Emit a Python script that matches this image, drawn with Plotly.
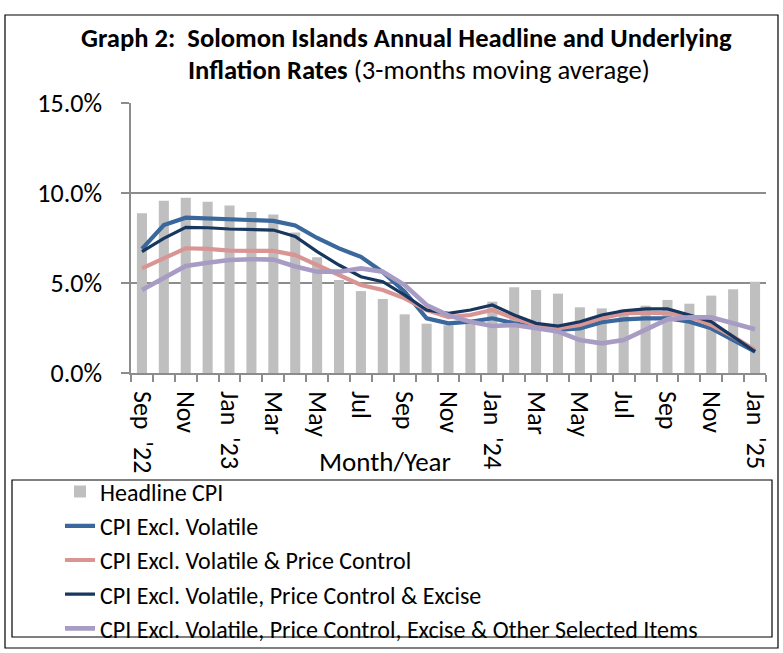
import plotly.graph_objects as go

months = ["Sep-22", "Oct-22", "Nov-22", "Dec-22", "Jan-23", "Feb-23", "Mar-23", "Apr-23",
          "May-23", "Jun-23", "Jul-23", "Aug-23", "Sep-23", "Oct-23", "Nov-23", "Dec-23",
          "Jan-24", "Feb-24", "Mar-24", "Apr-24", "May-24", "Jun-24", "Jul-24", "Aug-24",
          "Sep-24", "Oct-24", "Nov-24", "Dec-24", "Jan-25"]
S = "\u00a0\u00a0"
tick_labels = ["Sep" + S + "'22", "", "Nov", "", "Jan" + S + "'23", "", "Mar", "", "May", "",
               "Jul", "", "Sep", "", "Nov", "", "Jan" + S + "'24", "", "Mar", "", "May", "",
               "Jul", "", "Sep", "", "Nov", "", "Jan" + S + "'25"]
y_ticks = [0, 5, 10, 15]
y_tick_labels = ["0.0%", "5.0%", "10.0%", "15.0%"]

headline = [8.87, 9.57, 9.74, 9.52, 9.30, 8.94, 8.81, 7.80, 6.43, 5.17, 4.55, 4.11, 3.26,
            2.74, 2.65, 2.90, 3.96, 4.76, 4.61, 4.41, 3.65, 3.59, 3.52, 3.74, 4.06, 3.85,
            4.30, 4.65, 5.07]
excl_volatile = [6.90, 8.22, 8.63, 8.59, 8.50, 8.46, 8.45, 8.20, 7.50, 6.92, 6.45, 5.60,
                 4.52, 3.04, 2.76, 2.85, 3.04, 2.76, 2.57, 2.39, 2.48, 2.82, 2.98, 3.04,
                 3.04, 2.85, 2.48, 1.83, 1.19]
excl_vol_pc = [5.81, 6.37, 6.93, 6.90, 6.80, 6.78, 6.78, 6.55, 6.00, 5.44, 4.89, 4.61,
               4.15, 3.50, 3.10, 3.22, 3.50, 3.04, 2.67, 2.48, 2.67, 3.05, 3.31, 3.35,
               3.31, 3.13, 2.67, 2.02, 1.28]
excl_vol_pc_ex = [6.74, 7.48, 8.09, 8.07, 8.00, 7.98, 7.94, 7.59, 6.74, 6.00, 5.35, 5.07,
                  4.33, 3.50, 3.31, 3.50, 3.78, 3.22, 2.76, 2.61, 2.85, 3.22, 3.46, 3.56,
                  3.56, 3.22, 2.85, 2.02, 1.19]
excl_vol_pc_ex_other = [4.61, 5.26, 5.94, 6.13, 6.28, 6.32, 6.30, 5.92, 5.63, 5.63, 5.81,
                        5.63, 4.89, 3.78, 3.20, 2.85, 2.61, 2.67, 2.48, 2.30, 1.83, 1.65,
                        1.83, 2.43, 2.98, 3.09, 3.09, 2.76, 2.43]

series_names = ["CPI Excl. Volatile", "CPI Excl. Volatile & Price Control",
                "CPI Excl. Volatile, Price Control & Excise",
                "CPI Excl. Volatile, Price Control, Excise & Other Selected Items"]

FONT = "Carlito, Calibri, 'Liberation Sans Narrow', 'Open Sans', sans-serif"
GRID = "#8c8c8c"
FS = 26

fig = go.Figure()
fig.add_trace(go.Bar(x=months, y=headline, name="Headline CPI",
                     marker=dict(color="#bfbfbf", line=dict(width=0))))
line_styles = [("#3a679c", 4.2), ("#d99594", 4.2), ("#17375e", 3.2), ("#a99cc4", 4.6)]
for name, vals, (col, w) in zip(series_names,
                                [excl_volatile, excl_vol_pc, excl_vol_pc_ex, excl_vol_pc_ex_other],
                                line_styles):
    fig.add_trace(go.Scatter(x=months, y=vals, name=name, mode="lines",
                             line=dict(color=col, width=w)))

L, R, T, B = 131, 17, 103, 280
W, H = 783, 653
pw, ph = W - L - R, H - T - B

def px_x(x):
    return (x - L) / pw

def px_y(y):
    return (H - B - y) / ph

fig.update_layout(
    width=W, height=H,
    margin=dict(l=L, r=R, t=T, b=B, autoexpand=False),
    paper_bgcolor="white", plot_bgcolor="white",
    font=dict(family=FONT, size=FS, color="black"),
    bargap=0.54,
    showlegend=True,
    legend=dict(x=px_x(60), y=px_y(469.5), xanchor="left", yanchor="top",
                font=dict(size=24, family=FONT), bgcolor="rgba(0,0,0,0)",
                borderwidth=0, tracegroupgap=0, itemwidth=30),
    xaxis=dict(type="category", tickmode="array", tickvals=months, ticktext=tick_labels,
               tickangle=90, tickson="boundaries", ticks="outside", ticklen=7,
               tickcolor=GRID, tickwidth=1.5, showline=True, linecolor=GRID, linewidth=1.5,
               showgrid=False, tickfont=dict(size=FS), ticklabelstandoff=11,
               range=[-0.5, len(months) - 0.5], automargin=False),
    yaxis=dict(range=[0, 15], tickmode="array", tickvals=y_ticks, ticktext=y_tick_labels,
               ticks="outside", ticklen=8, tickcolor=GRID, tickwidth=1.5,
               showline=True, linecolor=GRID, linewidth=1.5,
               showgrid=True, gridcolor=GRID, gridwidth=1.5, zeroline=False,
               tickfont=dict(size=FS), ticklabelstandoff=14, automargin=False),
)

fig.add_annotation(xref="paper", yref="paper", x=px_x(406), y=px_y(38),
                   text="<b>Graph 2:\u00a0 Solomon Islands Annual Headline and Underlying</b>",
                   showarrow=False, font=dict(size=26.6), xanchor="center", yanchor="middle")
fig.add_annotation(xref="paper", yref="paper", x=px_x(419), y=px_y(70),
                   text="<b>Inflation Rates</b> (3-months moving average)",
                   showarrow=False, font=dict(size=26.6), xanchor="center", yanchor="middle")
fig.add_annotation(xref="paper", yref="paper", x=px_x(385), y=px_y(461),
                   text="Month/Year", showarrow=False, font=dict(size=27),
                   xanchor="center", yanchor="middle")

# legend box and outer frame
fig.add_shape(type="rect", xref="paper", yref="paper",
              x0=px_x(12), x1=px_x(772), y0=px_y(480), y1=px_y(637),
              line=dict(color="black", width=1.2), fillcolor="rgba(0,0,0,0)", layer="above")
fig.add_shape(type="rect", xref="paper", yref="paper",
              x0=px_x(5), x1=px_x(778), y0=px_y(15), y1=px_y(648),
              line=dict(color="black", width=1.2), fillcolor="rgba(0,0,0,0)", layer="above")

fig.write_html("out.html", config={"displayModeBar": False},
               post_script="document.body.style.margin='0';")
